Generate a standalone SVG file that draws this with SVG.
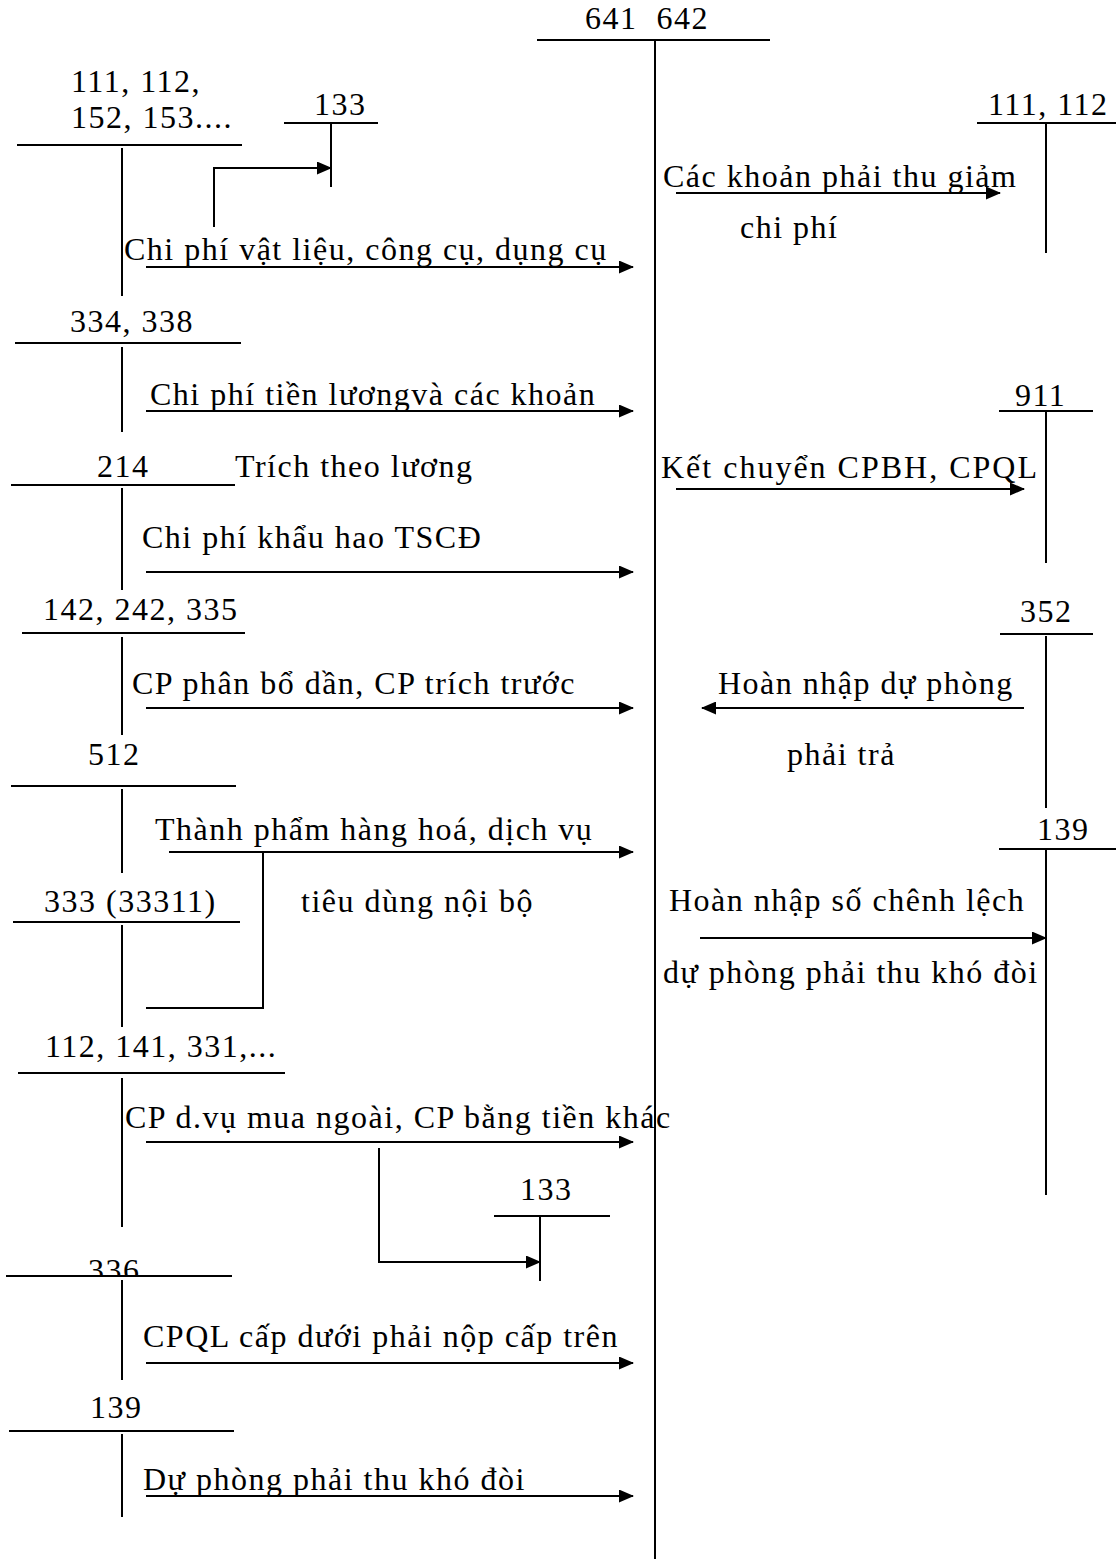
<svg xmlns="http://www.w3.org/2000/svg" width="1116" height="1559" viewBox="0 0 1116 1559">
<style>
text{font-family:"Liberation Serif","Times New Roman",serif;font-size:32px;letter-spacing:1.5px;fill:#000}
line,polyline{stroke:#000;stroke-width:2;fill:none}
</style>
<defs>
<marker id="ah" markerUnits="userSpaceOnUse" markerWidth="15" markerHeight="13" refX="14" refY="6.5" orient="auto">
<path d="M0,0 L15,6.5 L0,13 Z" fill="#000"/>
</marker>
<clipPath id="c336"><rect x="0" y="1240" width="300" height="35"/></clipPath>
</defs>
<rect width="1116" height="1559" fill="#fff"/>

<g id="acc-641-642">
<text x="585" y="29" xml:space="preserve">641  642</text>
<line x1="537" y1="40" x2="770" y2="40"/>
<line x1="655" y1="40" x2="655" y2="1559"/>
</g>

<g id="acc-111-152">
<text x="71" y="92">111, 112,</text>
<text x="71" y="128">152, 153....</text>
<line x1="17" y1="145" x2="242" y2="145"/>
<line x1="122" y1="148" x2="122" y2="296"/>
</g>
<g id="acc-133-top">
<text x="314" y="115">133</text>
<line x1="284" y1="123" x2="378" y2="123"/>
<line x1="331" y1="123" x2="331" y2="187"/>
</g>
<g id="acc-334-338">
<text x="70" y="332">334, 338</text>
<line x1="15" y1="343" x2="241" y2="343"/>
<line x1="122" y1="347" x2="122" y2="432"/>
</g>
<g id="acc-214">
<text x="97" y="477">214</text>
<line x1="11" y1="485" x2="235" y2="485"/>
<line x1="122" y1="488" x2="122" y2="590"/>
</g>
<g id="acc-142-242-335">
<text x="43" y="620">142, 242, 335</text>
<line x1="22" y1="633" x2="245" y2="633"/>
<line x1="122" y1="637" x2="122" y2="735"/>
</g>
<g id="acc-512">
<text x="88" y="765">512</text>
<line x1="11" y1="786" x2="236" y2="786"/>
<line x1="122" y1="789" x2="122" y2="873"/>
</g>
<g id="acc-333">
<text x="44" y="912">333 (33311)</text>
<line x1="13" y1="922" x2="240" y2="922"/>
<line x1="122" y1="925" x2="122" y2="1027"/>
</g>
<g id="acc-112-141-331">
<text x="45" y="1057">112, 141, 331,...</text>
<line x1="18" y1="1073" x2="285" y2="1073"/>
<line x1="122" y1="1078" x2="122" y2="1227"/>
</g>
<g id="acc-133-bottom">
<text x="520" y="1200">133</text>
<line x1="494" y1="1216" x2="610" y2="1216"/>
<line x1="540" y1="1217" x2="540" y2="1281"/>
</g>
<g id="acc-336">
<text x="88" y="1281" clip-path="url(#c336)">336</text>
<line x1="6" y1="1276" x2="232" y2="1276"/>
<line x1="122" y1="1280" x2="122" y2="1380"/>
</g>
<g id="acc-139-left">
<text x="90" y="1418">139</text>
<line x1="9" y1="1431" x2="234" y2="1431"/>
<line x1="122" y1="1434" x2="122" y2="1517"/>
</g>

<g id="acc-111-112-right">
<text x="988" y="115">111, 112</text>
<line x1="977" y1="123" x2="1116" y2="123"/>
<line x1="1046" y1="123" x2="1046" y2="253"/>
</g>
<g id="acc-911">
<text x="1015" y="406">911</text>
<line x1="999" y1="411" x2="1093" y2="411"/>
<line x1="1046" y1="411" x2="1046" y2="563"/>
</g>
<g id="acc-352">
<text x="1020" y="622">352</text>
<line x1="1000" y1="634" x2="1093" y2="634"/>
<line x1="1046" y1="636" x2="1046" y2="808"/>
</g>
<g id="acc-139-right">
<text x="1037" y="840">139</text>
<line x1="999" y1="849" x2="1116" y2="849"/>
<line x1="1046" y1="850" x2="1046" y2="1195"/>
</g>

<g id="connectors">
<polyline points="214,227 214,168 331,168" marker-end="url(#ah)"/>
<line x1="146" y1="267" x2="633" y2="267" marker-end="url(#ah)"/>
<line x1="146" y1="411" x2="633" y2="411" marker-end="url(#ah)"/>
<line x1="146" y1="572" x2="633" y2="572" marker-end="url(#ah)"/>
<line x1="146" y1="708" x2="633" y2="708" marker-end="url(#ah)"/>
<line x1="169" y1="852" x2="633" y2="852" marker-end="url(#ah)"/>
<polyline points="263,852 263,1008 146,1008"/>
<line x1="146" y1="1142" x2="633" y2="1142" marker-end="url(#ah)"/>
<polyline points="379,1148 379,1262 540,1262" marker-end="url(#ah)"/>
<line x1="146" y1="1363" x2="633" y2="1363" marker-end="url(#ah)"/>
<line x1="146" y1="1496" x2="633" y2="1496" marker-end="url(#ah)"/>
<line x1="676" y1="193" x2="1000" y2="193" marker-end="url(#ah)"/>
<line x1="676" y1="489" x2="1024" y2="489" marker-end="url(#ah)"/>
<line x1="1024" y1="708" x2="702" y2="708" marker-end="url(#ah)"/>
<line x1="700" y1="938" x2="1046" y2="938" marker-end="url(#ah)"/>
</g>

<g id="labels">
<text x="124" y="260">Chi phí vật liệu, công cụ, dụng cụ</text>
<text x="150" y="405">Chi phí tiền lươngvà các khoản</text>
<text x="235" y="477">Trích theo lương</text>
<text x="142" y="548">Chi phí khẩu hao TSCĐ</text>
<text x="132" y="694">CP phân bổ dần, CP trích trước</text>
<text x="155" y="840">Thành phẩm hàng hoá, dịch vụ</text>
<text x="301" y="912">tiêu dùng nội bộ</text>
<text x="125" y="1128">CP d.vụ mua ngoài, CP bằng tiền khác</text>
<text x="143" y="1347">CPQL cấp dưới phải nộp cấp trên</text>
<text x="143" y="1490">Dự phòng phải thu khó đòi</text>
<text x="663" y="187">Các khoản phải thu giảm</text>
<text x="740" y="238">chi phí</text>
<text x="661" y="478" style="letter-spacing:2px">Kết chuyển CPBH, CPQL</text>
<text x="718" y="694">Hoàn nhập dự phòng</text>
<text x="787" y="765">phải trả</text>
<text x="669" y="911">Hoàn nhập số chênh lệch</text>
<text x="663" y="983">dự phòng phải thu khó đòi</text>
</g>
</svg>
